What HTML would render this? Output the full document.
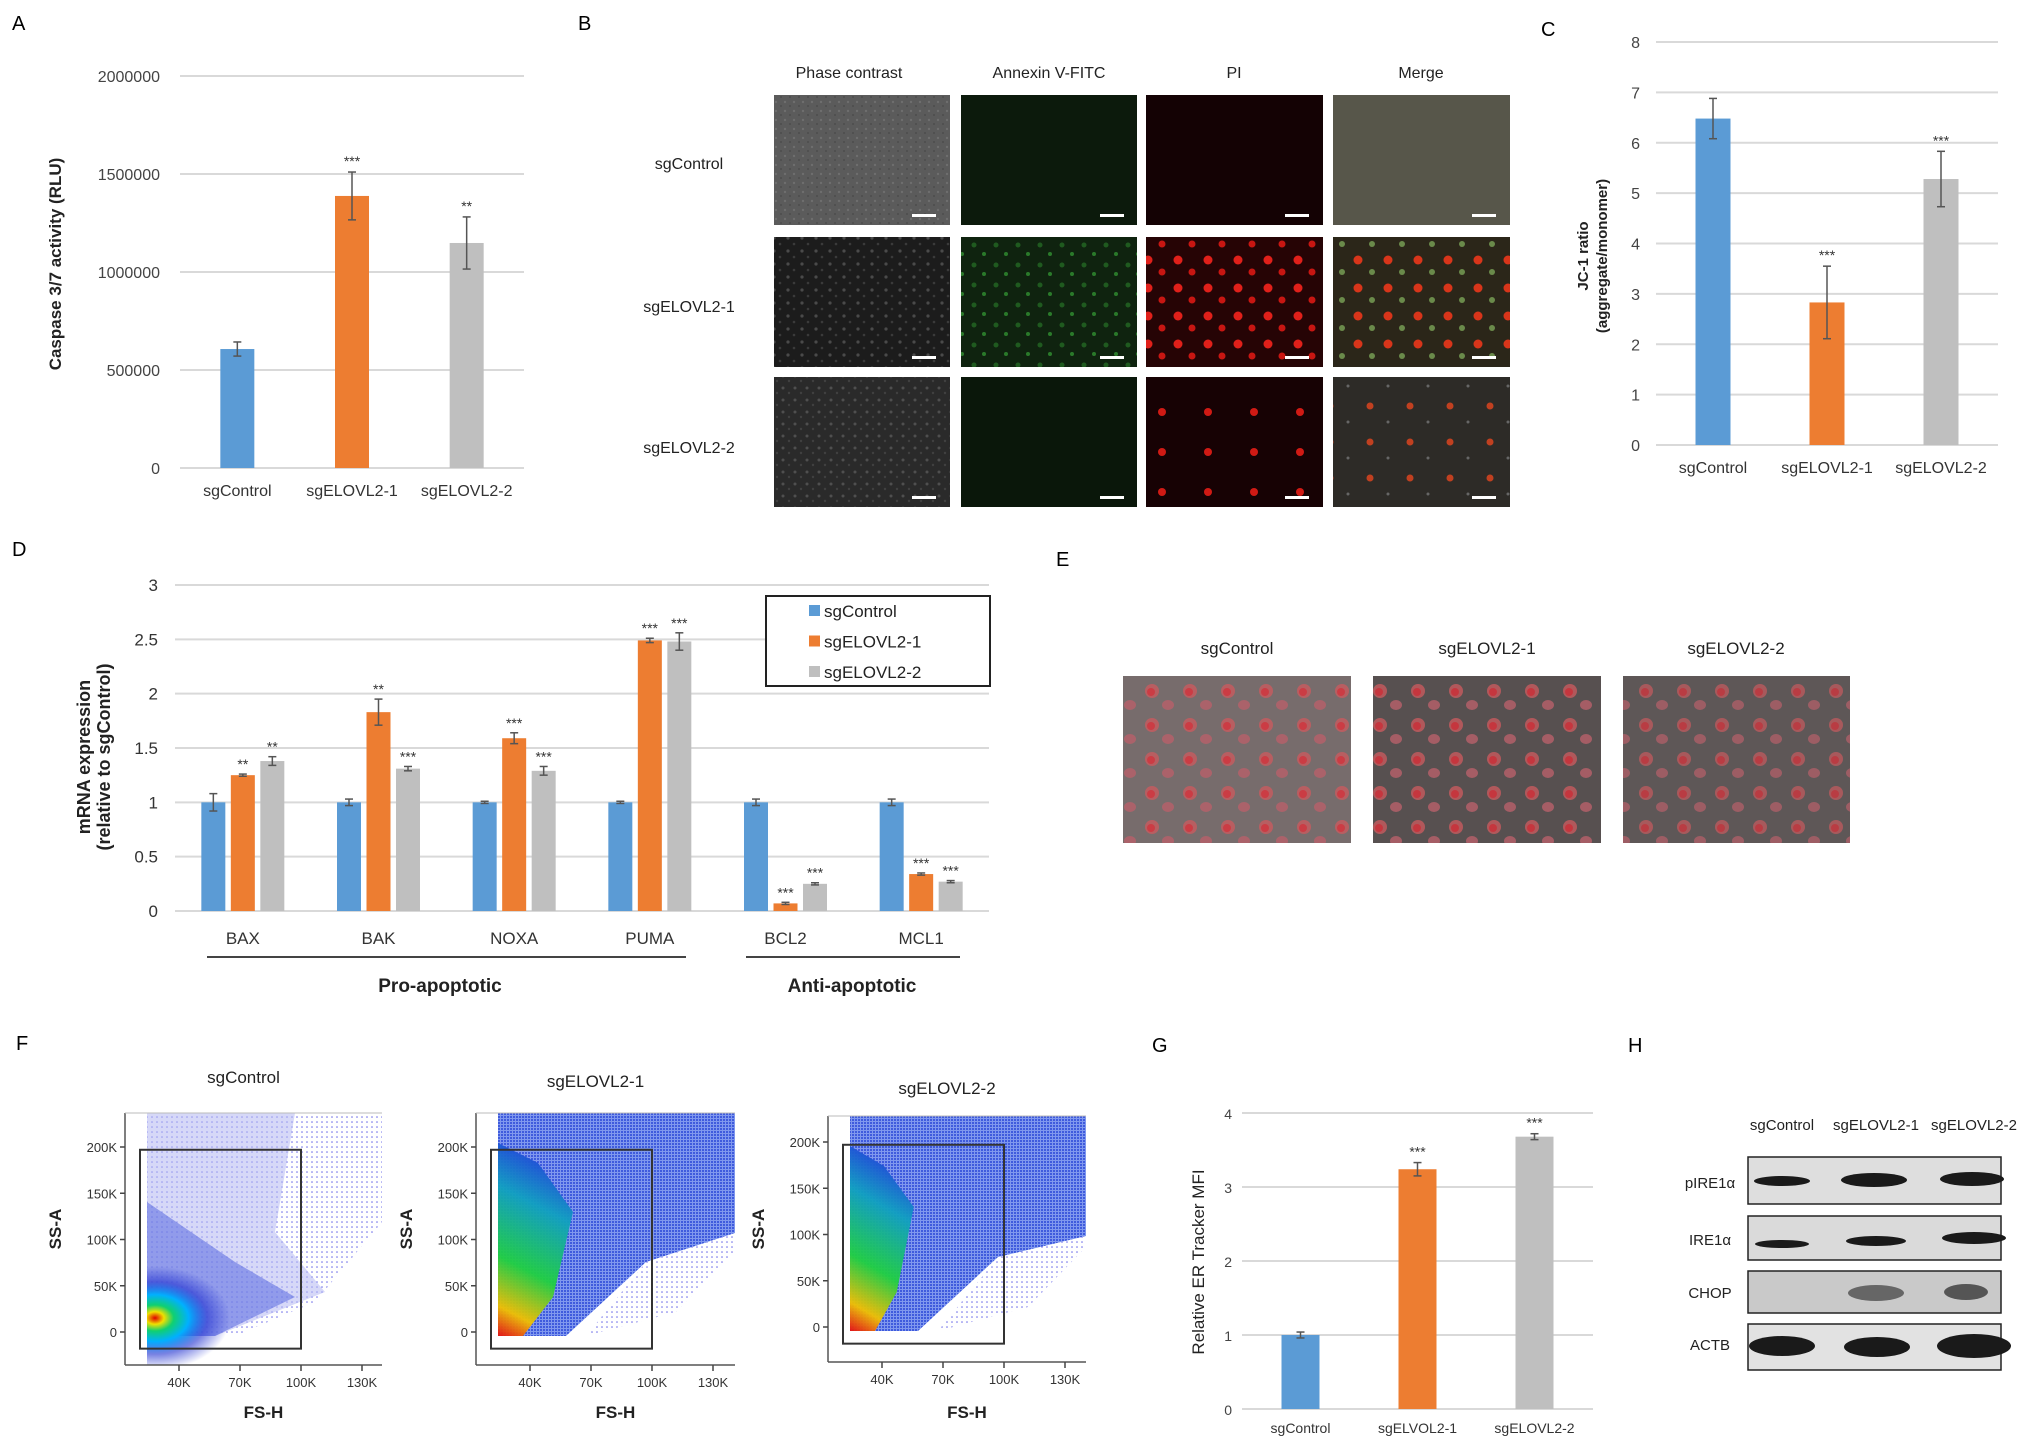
<!DOCTYPE html>
<html><head><meta charset="utf-8"><style>
html,body{margin:0;padding:0;background:#fff}
svg{display:block}
text{font-family:"Liberation Sans",Arial,sans-serif}
</style></head><body>
<svg id="fig" width="2031" height="1448" viewBox="0 0 2031 1448" xmlns="http://www.w3.org/2000/svg">
<defs>
<pattern id="phaseLight" width="9" height="9" patternUnits="userSpaceOnUse"><rect width="9" height="9" fill="#5b5b5b"/><circle cx="2" cy="3" r="1.2" fill="#6e6e6e"/><circle cx="7" cy="7" r="1" fill="#4c4c4c"/></pattern>
<pattern id="phaseDark" width="14" height="13" patternUnits="userSpaceOnUse"><rect width="14" height="13" fill="#1c1c1c"/><circle cx="4" cy="4" r="1.6" fill="#4a4a4a"/><circle cx="10" cy="10" r="1.3" fill="#3a3a3a"/></pattern>
<pattern id="phaseDark2" width="12" height="12" patternUnits="userSpaceOnUse"><rect width="12" height="12" fill="#2a2a2a"/><circle cx="3" cy="4" r="1.5" fill="#4f4f4f"/><circle cx="9" cy="9" r="1.2" fill="#404040"/></pattern>
<pattern id="greenSpots" width="22" height="20" patternUnits="userSpaceOnUse"><rect width="22" height="20" fill="#0f230f"/><circle cx="6" cy="5" r="2.5" fill="#1f5a1f"/><circle cx="16" cy="14" r="2" fill="#2a7a2a"/></pattern>
<pattern id="redSpots" width="30" height="28" patternUnits="userSpaceOnUse"><rect width="30" height="28" fill="#260405"/><circle cx="8" cy="8" r="4.5" fill="#e0201a"/><circle cx="22" cy="20" r="3.5" fill="#c81612"/></pattern>
<pattern id="redSparse" width="46" height="40" patternUnits="userSpaceOnUse"><rect width="46" height="40" fill="#170204"/><circle cx="12" cy="12" r="4" fill="#d01a14"/></pattern>
<pattern id="mergeDense" width="30" height="28" patternUnits="userSpaceOnUse"><rect width="30" height="28" fill="#2b2619"/><circle cx="8" cy="8" r="4.5" fill="#d8351a"/><circle cx="22" cy="20" r="3" fill="#6a8a4a"/></pattern>
<pattern id="mergeSparse" width="40" height="36" patternUnits="userSpaceOnUse"><rect width="40" height="36" fill="#2d2b27"/><circle cx="10" cy="10" r="3.5" fill="#c04020"/><circle cx="28" cy="26" r="1.5" fill="#666"/></pattern>
<pattern id="cellsE" width="38" height="34" patternUnits="userSpaceOnUse"><circle cx="12" cy="11" r="7" fill="#c85a5e"/><circle cx="11" cy="12" r="4" fill="#e0303a"/><ellipse cx="28" cy="25" rx="6" ry="5" fill="#b8606a"/></pattern>
<pattern id="blueDots" width="5" height="5" patternUnits="userSpaceOnUse"><circle cx="2" cy="2" r="0.8" fill="#6a6ae8"/></pattern>
<pattern id="blueDense" width="3" height="3" patternUnits="userSpaceOnUse"><rect width="3" height="3" fill="#8098ee"/><circle cx="1" cy="1" r="1" fill="#2a48d8"/></pattern>
<radialGradient id="hot1" cx="0.5" cy="0.5" r="0.5"><stop offset="0" stop-color="#e00000"/><stop offset="0.12" stop-color="#f0e000"/><stop offset="0.25" stop-color="#10d070"/><stop offset="0.45" stop-color="#00b0ff"/><stop offset="0.7" stop-color="#2030d0" stop-opacity="0.6"/><stop offset="1" stop-color="#2030d0" stop-opacity="0"/></radialGradient>
<linearGradient id="wedge" x1="0" y1="1" x2="0.2" y2="0"><stop offset="0" stop-color="#e81010"/><stop offset="0.15" stop-color="#f0c000"/><stop offset="0.4" stop-color="#20d040"/><stop offset="0.75" stop-color="#10a0c0"/><stop offset="1" stop-color="#2048d8"/></linearGradient>
</defs>

<text x="12" y="30" font-size="20">A</text>
<text x="578" y="30" font-size="20">B</text>
<text x="1541" y="36" font-size="20">C</text>
<text x="12" y="556" font-size="20">D</text>
<text x="1056" y="566" font-size="20">E</text>
<text x="16" y="1050" font-size="20">F</text>
<text x="1152" y="1052" font-size="20">G</text>
<text x="1628" y="1052" font-size="20">H</text>

<g id="chartA"></g>
<g id="chartC"></g>
<g id="chartD"></g>
<g id="chartG"></g>

<g font-size="16" fill="#222">
<text x="849" y="78" text-anchor="middle">Phase contrast</text>
<text x="1049" y="78" text-anchor="middle">Annexin V-FITC</text>
<text x="1234" y="78" text-anchor="middle">PI</text>
<text x="1421" y="78" text-anchor="middle">Merge</text>
<text x="689" y="169" text-anchor="middle">sgControl</text>
<text x="689" y="312" text-anchor="middle">sgELOVL2-1</text>
<text x="689" y="453" text-anchor="middle">sgELOVL2-2</text>
<rect x="774" y="95" width="176" height="130" fill="url(#phaseLight)"/>
<rect x="961" y="95" width="176" height="130" fill="#0c1a0c"/>
<rect x="1146" y="95" width="177" height="130" fill="#140204"/>
<rect x="1333" y="95" width="177" height="130" fill="#57564a"/>
<rect x="774" y="237" width="176" height="130" fill="url(#phaseDark)"/>
<rect x="961" y="237" width="176" height="130" fill="url(#greenSpots)"/>
<rect x="1146" y="237" width="177" height="130" fill="url(#redSpots)"/>
<rect x="1333" y="237" width="177" height="130" fill="url(#mergeDense)"/>
<rect x="774" y="377" width="176" height="130" fill="url(#phaseDark2)"/>
<rect x="961" y="377" width="176" height="130" fill="#0a170a"/>
<rect x="1146" y="377" width="177" height="130" fill="url(#redSparse)"/>
<rect x="1333" y="377" width="177" height="130" fill="url(#mergeSparse)"/>
<g fill="#fff">
<rect x="912" y="214" width="24" height="3"/><rect x="1100" y="214" width="24" height="3"/><rect x="1285" y="214" width="24" height="3"/><rect x="1472" y="214" width="24" height="3"/>
<rect x="912" y="356" width="24" height="3"/><rect x="1100" y="356" width="24" height="3"/><rect x="1285" y="356" width="24" height="3"/><rect x="1472" y="356" width="24" height="3"/>
<rect x="912" y="496" width="24" height="3"/><rect x="1100" y="496" width="24" height="3"/><rect x="1285" y="496" width="24" height="3"/><rect x="1472" y="496" width="24" height="3"/>
</g>
</g>

<g font-size="17" fill="#222">
<text x="1237" y="654" text-anchor="middle">sgControl</text>
<text x="1487" y="654" text-anchor="middle">sgELOVL2-1</text>
<text x="1736" y="654" text-anchor="middle">sgELOVL2-2</text>
<rect x="1123" y="676" width="228" height="167" fill="#776c6c"/>
<rect x="1123" y="676" width="228" height="167" fill="url(#cellsE)" opacity="0.8"/>
<rect x="1373" y="676" width="228" height="167" fill="#575050"/>
<rect x="1373" y="676" width="228" height="167" fill="url(#cellsE)" opacity="0.8"/>
<rect x="1623" y="676" width="227" height="167" fill="#5e5757"/>
<rect x="1623" y="676" width="227" height="167" fill="url(#cellsE)" opacity="0.7"/>
</g>

<g id="flowF"></g>

<g font-size="15" fill="#222">
<text x="1782" y="1130" text-anchor="middle">sgControl</text>
<text x="1876" y="1130" text-anchor="middle">sgELOVL2-1</text>
<text x="1974" y="1130" text-anchor="middle">sgELOVL2-2</text>
<text x="1710" y="1188" text-anchor="middle">pIRE1α</text>
<text x="1710" y="1245" text-anchor="middle">IRE1α</text>
<text x="1710" y="1298" text-anchor="middle">CHOP</text>
<text x="1710" y="1350" text-anchor="middle">ACTB</text>
<rect x="1748" y="1157" width="253" height="47" fill="#dedede" stroke="#222" stroke-width="1.5"/>
<rect x="1748" y="1216" width="253" height="44" fill="#dadada" stroke="#222" stroke-width="1.5"/>
<rect x="1748" y="1271" width="253" height="42" fill="#c9c9c9" stroke="#222" stroke-width="1.5"/>
<rect x="1748" y="1324" width="253" height="46" fill="#e2e2e2" stroke="#222" stroke-width="1.5"/>
<g fill="#1a1a1a">
<ellipse cx="1782" cy="1181" rx="28" ry="5"/><ellipse cx="1874" cy="1180" rx="33" ry="7"/><ellipse cx="1972" cy="1179" rx="32" ry="7"/>
<ellipse cx="1782" cy="1244" rx="27" ry="4"/><ellipse cx="1876" cy="1241" rx="30" ry="5"/><ellipse cx="1974" cy="1238" rx="32" ry="6"/>
<ellipse cx="1876" cy="1293" rx="28" ry="8" fill="#666"/><ellipse cx="1966" cy="1292" rx="22" ry="8" fill="#555"/>
<ellipse cx="1782" cy="1346" rx="33" ry="10"/><ellipse cx="1877" cy="1347" rx="33" ry="10"/><ellipse cx="1974" cy="1346" rx="37" ry="12"/>
</g>
</g>
</svg>
<script>
const NS = "http://www.w3.org/2000/svg";
function mk(parent, tag, attrs, txt){ const e=document.createElementNS(NS,tag); for(const k in attrs) e.setAttribute(k,attrs[k]); if(txt!==undefined) e.textContent=txt; parent.appendChild(e); return e; }
const COLORS = ["#5b9bd5","#ed7d31","#bfbfbf"];

const aCategories = ["sgControl","sgELOVL2-1","sgELOVL2-2"];
const aValues = [607000, 1388000, 1148000];
const aErrors = [36000, 122000, 133000];
const aStars = ["", "***", "**"];
const aTicks = [0, 500000, 1000000, 1500000, 2000000];

const cCategories = ["sgControl","sgELOVL2-1","sgELOVL2-2"];
const cValues = [6.48, 2.83, 5.28];
const cErrors = [0.4, 0.72, 0.55];
const cStars = ["", "***", "***"];
const cTicks = [0,1,2,3,4,5,6,7,8];

const dGenes = ["BAX","BAK","NOXA","PUMA","BCL2","MCL1"];
const dSeriesNames = ["sgControl","sgELOVL2-1","sgELOVL2-2"];
const dControl = [1,1,1,1,1,1];
const dControlErr = [0.08,0.03,0.01,0.01,0.03,0.03];
const dKo1 = [1.25,1.83,1.59,2.49,0.07,0.34];
const dKo1Err = [0.01,0.12,0.05,0.02,0.01,0.01];
const dKo2 = [1.38,1.31,1.29,2.48,0.25,0.27];
const dKo2Err = [0.04,0.02,0.04,0.08,0.01,0.01];
const dKo1Stars = ["**","**","***","***","***","***"];
const dKo2Stars = ["**","***","***","***","***","***"];
const dTicks = [0,0.5,1,1.5,2,2.5,3];
const dTickLabels = ["0","0.5","1","1.5","2","2.5","3"];

const gCategories = ["sgControl","sgELVOL2-1","sgELOVL2-2"];
const gValues = [1.0, 3.24, 3.68];
const gErrors = [0.04, 0.09, 0.04];
const gStars = ["", "***", "***"];
const gTicks = [0,1,2,3,4];

const fTitles = ["sgControl","sgELOVL2-1","sgELOVL2-2"];
const fYTicks = [0, 50, 100, 150, 200];
const fYTickLabels = ["0","50K","100K","150K","200K"];
const fXTicks = [40, 70, 100, 130];
const fXTickLabels = ["40K","70K","100K","130K"];
const fGateX = [25, 100];
const fGateY = [-18, 197];

function errbar(g, x, y1, y2, name){
  const l=mk(g,"line",{x1:x,x2:x,y1:y1,y2:y2,stroke:"#555","stroke-width":1.5});
  
  
  mk(g,"line",{x1:x-4,x2:x+4,y1:y1,y2:y1,stroke:"#555","stroke-width":1.5});
  mk(g,"line",{x1:x-4,x2:x+4,y1:y2,y2:y2,stroke:"#555","stroke-width":1.5});
}

function simpleBar(gid, cfg, cats, vals, errs, stars, ticks, tickFmt){
  const g=document.getElementById(gid);
  const x0=cfg.x0, x1=cfg.x1, yTop=cfg.yTop, yBot=cfg.yBot, vmax=ticks[ticks.length-1];
  const ys = v => yBot - (v/vmax)*(yBot-yTop);
  const band=(x1-x0)/cats.length;
  ticks.forEach((t,i)=>{
    const gl=mk(g,"line",{x1:x0,x2:x1,y1:ys(t),y2:ys(t),stroke:"#d9d9d9","stroke-width":2});
    
    
    const tl=mk(g,"text",{x:cfg.tickX,y:ys(t)+6,"text-anchor":"end","font-size":cfg.fs,fill:"#444"},tickFmt(t));
    
    
  });
  cats.forEach((c,i)=>{
    const cx=x0+band*(i+0.5);
    const b=mk(g,"rect",{x:cx-cfg.bw/2,y:ys(vals[i]),width:cfg.bw,height:ys(0)-ys(vals[i]),fill:COLORS[i]});
    
    
    errbar(g,cx,ys(vals[i]+errs[i]),ys(vals[i]-errs[i]),'error-bar');
    if(stars[i]){
      const s=mk(g,"text",{x:cx,y:ys(vals[i]+errs[i])-6,"text-anchor":"middle","font-size":14,fill:"#333"},stars[i]);
      
      
    }
    const cl=mk(g,"text",{x:cx,y:cfg.catY,"text-anchor":"middle","font-size":cfg.fs,fill:"#333"},c);
    
    
  });
  cfg.title.forEach((t,k)=>{
    const tx=cfg.titleX[k];
    const tt=mk(g,"text",{x:tx,y:cfg.titleY,"text-anchor":"middle","font-size":cfg.titleFs,"font-weight":cfg.titleW,fill:"#222",transform:`rotate(-90 ${tx} ${cfg.titleY})`},t);
    
    
  });
}

simpleBar("chartA",{x0:180,x1:524,yTop:76,yBot:468,bw:34,tickX:160,fs:16,catY:496,title:["Caspase 3/7 activity (RLU)"],titleX:[61],titleY:264,titleFs:17,titleW:"bold"},
  aCategories,aValues,aErrors,aStars,aTicks,t=>String(t));
simpleBar("chartC",{x0:1656,x1:1998,yTop:42,yBot:445,bw:35,tickX:1640,fs:16,catY:473,title:["JC-1 ratio","(aggregate/monomer)"],titleX:[1588,1607],titleY:256,titleFs:15,titleW:"bold"},
  cCategories,cValues,cErrors,cStars,cTicks,t=>String(t));
simpleBar("chartG",{x0:1242,x1:1593,yTop:1113,yBot:1409,bw:38,tickX:1232,fs:14,catY:1433,title:["Relative ER Tracker MFI"],titleX:[1204],titleY:1262,titleFs:17,titleW:"normal"},
  gCategories,gValues,gErrors,gStars,gTicks,t=>String(t));

(function(){
  const g=document.getElementById("chartD");
  const x0=175,x1=989,yTop=585,yBot=911,vmax=3;
  const ys=v=>yBot-(v/vmax)*(yBot-yTop);
  const band=(x1-x0)/dGenes.length, bw=24, off=29.5;
  dTicks.forEach((t,i)=>{
    const gl=mk(g,"line",{x1:x0,x2:x1,y1:ys(t),y2:ys(t),stroke:"#d9d9d9","stroke-width":2});
    
    
    const tl=mk(g,"text",{x:158,y:ys(t)+6,"text-anchor":"end","font-size":17,fill:"#333"},dTickLabels[i]);
    
    
  });
  const series=[[dControl,dControlErr,null],[dKo1,dKo1Err,dKo1Stars],[dKo2,dKo2Err,dKo2Stars]];
  dGenes.forEach((gene,i)=>{
    const cx=x0+band*(i+0.5);
    series.forEach((s,k)=>{
      const bx=cx+(k-1)*off, v=s[0][i], e=s[1][i];
      const b=mk(g,"rect",{x:bx-bw/2,y:ys(v),width:bw,height:ys(0)-ys(v),fill:COLORS[k]});
      
      
      errbar(g,bx,ys(v+e),ys(v-e),'error-bar');
      if(s[2]){
        const st=mk(g,"text",{x:bx,y:ys(v+e)-5,"text-anchor":"middle","font-size":14,fill:"#333"},s[2][i]);
        
        
      }
    });
    const cl=mk(g,"text",{x:cx,y:944,"text-anchor":"middle","font-size":17,fill:"#333"},gene);
    
    
  });
  const l1=mk(g,"line",{x1:207,x2:686,y1:957,y2:957,stroke:"#444","stroke-width":2});
  
  
  const l2=mk(g,"line",{x1:746,x2:960,y1:957,y2:957,stroke:"#444","stroke-width":2});
  
  
  const p=mk(g,"text",{x:440,y:992,"text-anchor":"middle","font-size":19,"font-weight":"bold",fill:"#222"},"Pro-apoptotic");
  
  
  const a=mk(g,"text",{x:852,y:992,"text-anchor":"middle","font-size":19,"font-weight":"bold",fill:"#222"},"Anti-apoptotic");
  
  
  [["mRNA expression",90],["(relative to sgControl)",110]].forEach(([t,x])=>{
    const tt=mk(g,"text",{x:x,y:757,"text-anchor":"middle","font-size":18,"font-weight":"bold",fill:"#222",transform:`rotate(-90 ${x} 757)`},t);
    
    
  });
  const lg=mk(g,"rect",{x:766,y:596,width:224,height:90,fill:"#fff",stroke:"#222","stroke-width":2});
  
  
  dSeriesNames.forEach((n,k)=>{
    const y=612+k*30.5;
    const sw=mk(g,"rect",{x:809,y:y-7,width:11,height:11,fill:COLORS[k]});
    
    
    const lt=mk(g,"text",{x:824,y:y+5,"font-size":17,fill:"#222"},n);
    
    
  });
})();

(function(){
  const g=document.getElementById("flowF");
  const defs=document.querySelector("defs");
  const plots=[{L:125,T:1113,B:1365,R:382,y0:1332,ty:1083},{L:476,T:1113,B:1365,R:735,y0:1332,ty:1087},{L:828,T:1116,B:1362,R:1086,y0:1327,ty:1094}];
  plots.forEach((p,i)=>{
    const xs=v=>p.L+54+(v-40)*(61/30);
    const ys=v=>p.y0-v*185/200;
    const dl=p.L+22, b=p.y0+4;
    const cp=mk(defs,"clipPath",{id:"fclip"+i});
    mk(cp,"rect",{x:dl,y:p.T,width:p.R-dl,height:p.B-p.T});
    const sg=mk(g,"g",{});
    
    
    const dg=mk(sg,"g",{"clip-path":`url(#fclip${i})`});
    if(i===0){
      mk(dg,"polygon",{points:`${dl},${p.T} ${p.R},${p.T} ${p.R},${p.y0-110} ${p.L+190},${p.y0-30} ${p.L+110},${b} ${dl},${b}`,fill:"url(#blueDots)"});
      mk(dg,"polygon",{points:`${dl},${p.T} ${p.L+170},${p.T} ${p.L+150},${p.y0-100} ${p.L+200},${p.y0-40} ${p.L+90},${b} ${dl},${b}`,fill:"#b4b8f2",opacity:0.55});
      mk(dg,"polygon",{points:`${dl},${p.y0-130} ${p.L+110},${p.y0-70} ${p.L+170},${p.y0-35} ${p.L+90},${b} ${dl},${b}`,fill:"#5a6ae0",opacity:0.55});
      mk(dg,"ellipse",{cx:dl+8,cy:p.y0-14,rx:75,ry:52,fill:"url(#hot1)"});
    } else {
      const m=i===1?1:0.85;
      mk(dg,"polygon",{points:`${dl},${p.T} ${p.R},${p.T} ${p.R},${p.T+120} ${p.L+170},${p.y0-70} ${p.L+90},${b} ${dl},${b}`,fill:"url(#blueDense)"});
      mk(dg,"polygon",{points:`${p.L+170},${p.y0-70} ${p.R},${p.T+120} ${p.R},${p.y0-80} ${p.L+200},${p.y0-20} ${p.L+110},${b}`,fill:"url(#blueDots)"});
      mk(dg,"polygon",{points:`${dl},${p.T+30} ${dl+40*m},${p.T+50} ${dl+75*m},${p.y0-120} ${dl+55*m},${p.y0-35} ${dl+25},${b} ${dl},${b}`,fill:"url(#wedge)",opacity:0.95});
    }
    mk(sg,"line",{x1:p.L,x2:p.L,y1:p.T,y2:p.B,stroke:"#555","stroke-width":1.5});
    mk(sg,"line",{x1:p.L,x2:p.R,y1:p.B,y2:p.B,stroke:"#555","stroke-width":1.5});
    mk(sg,"line",{x1:p.L,x2:p.R,y1:p.T,y2:p.T,stroke:"#bbb","stroke-width":1});
    fYTicks.forEach((t,k)=>{
      mk(sg,"line",{x1:p.L-5,x2:p.L,y1:ys(t),y2:ys(t),stroke:"#444","stroke-width":1.5});
      const tl=mk(sg,"text",{x:p.L-8,y:ys(t)+5,"text-anchor":"end","font-size":13,fill:"#333"},fYTickLabels[k]);
      
      
    });
    fXTicks.forEach((t,k)=>{
      mk(sg,"line",{x1:xs(t),x2:xs(t),y1:p.B,y2:p.B+6,stroke:"#444","stroke-width":1.5});
      const tl=mk(sg,"text",{x:xs(t),y:p.B+22,"text-anchor":"middle","font-size":13,fill:"#333"},fXTickLabels[k]);
      
      
    });
    const gate=mk(sg,"rect",{x:p.L+15,y:ys(fGateY[1]),width:xs(fGateX[1])-(p.L+15),height:ys(fGateY[0])-ys(fGateY[1]),fill:"none",stroke:"#333","stroke-width":2});
    
    
    const tt=mk(sg,"text",{x:(p.L+p.R)/2-10,y:p.ty,"text-anchor":"middle","font-size":17,fill:"#222"},fTitles[i]);
    
    
    const xl=mk(sg,"text",{x:(p.L+p.R)/2+10,y:1418,"text-anchor":"middle","font-size":17,"font-weight":"bold",fill:"#222"},"FS-H");
    
    
    const yx=p.L-64, yy=(p.T+p.B)/2-10;
    const yl=mk(sg,"text",{x:yx,y:yy,"text-anchor":"middle","font-size":17,"font-weight":"bold",fill:"#222",transform:`rotate(-90 ${yx} ${yy})`},"SS-A");
    
    
  });
})();
</script>
</body></html>
